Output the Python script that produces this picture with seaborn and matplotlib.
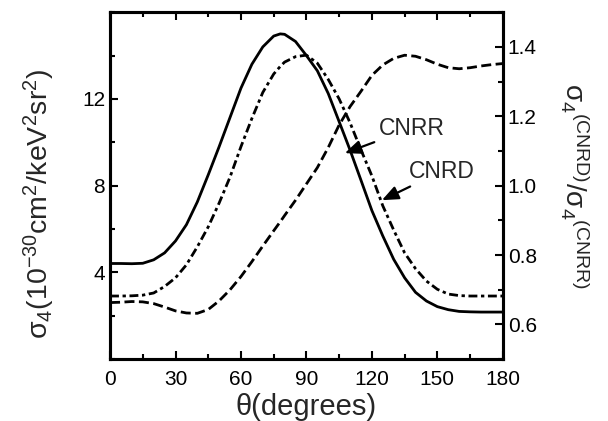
import numpy as np
import pandas as pd
import matplotlib
matplotlib.use('Agg')
import matplotlib.pyplot as plt
from matplotlib.ticker import MultipleLocator
import seaborn as sns

# --- dados ---
theta = [0, 5, 10, 15, 20, 25, 30, 35, 40, 45, 50, 55, 60, 65, 70, 75, 78, 80, 85,
         90, 95, 100, 105, 110, 115, 120, 125, 130, 135, 140, 145, 150, 155, 160,
         165, 170, 175, 180]

cnrr = [4.41, 4.41, 4.40, 4.42, 4.58, 4.90, 5.45, 6.20, 7.25, 8.50, 9.80, 11.15,
        12.50, 13.60, 14.40, 14.90, 15.00, 14.98, 14.65, 14.00, 13.30, 12.25, 10.95,
        9.64, 8.25, 6.85, 5.68, 4.60, 3.75, 3.08, 2.68, 2.42, 2.28, 2.20, 2.18, 2.17,
        2.17, 2.17]

cnrd = [2.91, 2.91, 2.92, 2.95, 3.05, 3.35, 3.75, 4.35, 5.18, 6.10, 7.20, 8.40,
        9.80, 11.10, 12.30, 13.15, 13.50, 13.70, 13.95, 14.02, 13.65, 12.90, 12.00,
        10.90, 9.65, 8.45, 7.07, 5.95, 4.90, 4.17, 3.60, 3.22, 3.00, 2.93, 2.91, 2.91,
        2.91, 2.91]

ratio = [0.663, 0.664, 0.666, 0.665, 0.660, 0.650, 0.639, 0.633, 0.632, 0.643,
         0.668, 0.700, 0.738, 0.781, 0.826, 0.870, 0.896, 0.914, 0.958, 1.005, 1.052,
         1.110, 1.175, 1.228, 1.272, 1.318, 1.348, 1.367, 1.376, 1.373, 1.363, 1.350,
         1.340, 1.337, 1.340, 1.345, 1.349, 1.352]

x_ticks = [0, 30, 60, 90, 120, 150, 180]
left_ticks = [4, 8, 12]
right_ticks = [0.6, 0.8, 1.0, 1.2, 1.4]

df = pd.DataFrame({
    'theta': theta * 2,
    'sigma': cnrr + cnrd,
    'curva': ['CNRR'] * len(theta) + ['CNRD'] * len(theta),
})
df_ratio = pd.DataFrame({'theta': theta, 'ratio': ratio})

sns.set_style('ticks')
plt.rcParams['font.family'] = ['Liberation Sans', 'DejaVu Sans']
plt.rcParams['mathtext.fontset'] = 'custom'
plt.rcParams['mathtext.rm'] = 'Liberation Sans'
plt.rcParams['mathtext.it'] = 'Liberation Sans'
plt.rcParams['mathtext.default'] = 'regular'

fig = plt.figure(figsize=(6.08, 4.21), dpi=100)
ax = fig.add_axes([0.181, 0.147, 0.646, 0.824])

sns.lineplot(data=df, x='theta', y='sigma', style='curva', color='black',
             dashes={'CNRR': '', 'CNRD': (3.2, 1.3, 1.2, 1.3)}, linewidth=2,
             legend=False, ax=ax)
ax.set_xlim(0, 180)
ax.set_ylim(0, 16)
ax.set_xticks(x_ticks)
ax.set_yticks(left_ticks)
ax.xaxis.set_minor_locator(MultipleLocator(15))
ax.yaxis.set_minor_locator(MultipleLocator(2))
ax.tick_params(which='both', direction='in', top=True, right=False, width=1.5,
               labelsize=15, colors='black')
ax.tick_params(which='major', length=6)
ax.tick_params(which='minor', length=3.5)
ax.tick_params(axis='x', pad=8)
ax.set_xlabel('θ(degrees)', fontsize=21, labelpad=3)
ax.set_ylabel(r'σ$_4$(10$^{-30}$cm$^2$/keV$^2$sr$^2$)', fontsize=20.5)
ax.yaxis.set_label_coords(-0.135, 0.447)

ax2 = ax.twinx()
sns.lineplot(data=df_ratio, x='theta', y='ratio', color='black', linewidth=2,
             linestyle=(0, (3.6, 1.6)), legend=False, ax=ax2)
ax2.set_ylim(0.5, 1.5)
ax2.set_yticks(right_ticks)
ax2.set_yticklabels(['%.1f' % v for v in right_ticks])
ax2.yaxis.set_minor_locator(MultipleLocator(0.1))
ax2.tick_params(which='both', direction='in', width=1.5, labelsize=15,
                colors='black')
ax2.tick_params(which='major', length=6)
ax2.tick_params(which='minor', length=3.5)
ax2.set_ylabel(r'σ$_4$$^{(CNRD)}$/σ$_4$$^{(CNRR)}$', fontsize=20, rotation=270,
               va='bottom')
ax2.yaxis.set_label_coords(1.142, 0.5)
ax2.set_xlabel('')

for a in (ax, ax2):
    for s in a.spines.values():
        s.set_linewidth(2.2)
        s.set_color('black')
        s.set_visible(True)

ax.annotate('CNRR', xy=(107.6, 9.5), xytext=(123.2, 10.65), fontsize=16.5,
            ha='left', va='center',
            arrowprops=dict(arrowstyle='-|>,head_length=0.6,head_width=0.25',
                            color='black', lw=1.6, shrinkA=1, shrinkB=0))
ax.annotate('CNRD', xy=(124.6, 7.33), xytext=(137.0, 8.67), fontsize=16.5,
            ha='left', va='center',
            arrowprops=dict(arrowstyle='-|>,head_length=0.6,head_width=0.25',
                            color='black', lw=1.6, shrinkA=1, shrinkB=0))

fig.savefig('out.png', dpi=100)
